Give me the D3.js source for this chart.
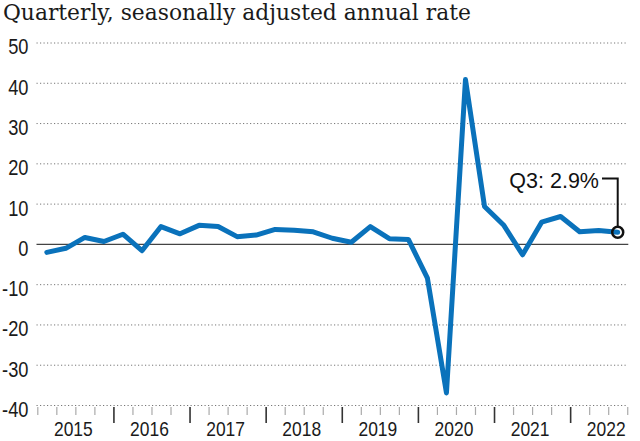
<!DOCTYPE html>
<html>
<head>
<meta charset="utf-8">
<script src="https://cdn.jsdelivr.net/npm/d3@7"></script>
<style>
  html, body { margin: 0; padding: 0; background: #fff; }
  svg { display: block; }
</style>
</head>
<body>
<svg id="chart" width="640" height="441"></svg>
<script>
// ---- Data ----
const title = "Quarterly, seasonally adjusted annual rate";
const quarters = [
  "2015 Q1","2015 Q2","2015 Q3","2015 Q4",
  "2016 Q1","2016 Q2","2016 Q3","2016 Q4",
  "2017 Q1","2017 Q2","2017 Q3","2017 Q4",
  "2018 Q1","2018 Q2","2018 Q3","2018 Q4",
  "2019 Q1","2019 Q2","2019 Q3","2019 Q4",
  "2020 Q1","2020 Q2","2020 Q3","2020 Q4",
  "2021 Q1","2021 Q2","2021 Q3","2021 Q4",
  "2022 Q1","2022 Q2","2022 Q3"
];
const values = [
  -2.1, -1.1, 1.6, 0.6,
  2.4, -1.7, 4.3, 2.5,
  4.6, 4.3, 1.8, 2.2,
  3.6, 3.4, 3.0, 1.4,
  0.4, 4.3, 1.3, 1.1,
  -8.5, -37.0, 40.8, 9.3,
  4.7, -2.7, 5.4, 6.8,
  3.0, 3.3, 2.9
];
const years = ["2015","2016","2017","2018","2019","2020","2021","2022"];
const yTicks = [50, 40, 30, 20, 10, 0, -10, -20, -30, -40];
const annotationText = "Q3: 2.9%";

// ---- Layout ----
const svg = d3.select("#chart");
const sans = "'Liberation Sans', Arial, sans-serif";
const left = 36.5, right = 627.3;
const squeeze = 0.83;

function condense(sel) {
  sel.each(function () {
    const w = this.getComputedTextLength();
    d3.select(this)
      .attr("textLength", w * squeeze)
      .attr("lengthAdjust", "spacingAndGlyphs");
  });
}

const x = d3.scaleLinear().domain([0, 32]).range([37.3, 37.3 + 32 * 19.03]);
const y = d3.scaleLinear().domain([-40, 50]).range([405, 42.5]);

// Title
svg.append("text")
  .attr("x", 3).attr("y", 20)
  .attr("font-family", "'DejaVu Serif', Georgia, serif")
  .attr("font-size", 21.8)
  .attr("fill", "#1a1a1a")
  .text(title);

// Y axis with gridlines
const yAxis = d3.axisLeft(y)
  .tickValues(yTicks)
  .tickSize(-(right - left))
  .tickPadding(8)
  .tickFormat(d => String(d));

const gy = svg.append("g")
  .attr("transform", `translate(${left},0)`)
  .call(yAxis);
gy.select(".domain").remove();
gy.selectAll(".tick line")
  .attr("stroke", d => d === 0 ? "#444" : "#777")
  .attr("stroke-width", d => d === 0 ? 1.4 : 1)
  .attr("stroke-dasharray", d => d === 0 ? null : "1.2,2.3")
  .attr("x2", d => d === 0 ? (right - left + 1) : (right - left - 1));
gy.selectAll(".tick text")
  .attr("font-family", sans)
  .attr("font-size", 22)
  .attr("fill", "#1a1a1a")
  .attr("dy", "0.52em")
  .call(condense);

// X axis (quarter ticks)
const qTicks = d3.range(0, quarters.length + 1);
const xAxis = d3.axisBottom(x)
  .tickValues(qTicks)
  .tickSize(8)
  .tickFormat("");
const gx = svg.append("g")
  .attr("transform", "translate(0,407)")
  .call(xAxis);
gx.select(".domain").remove();
gx.selectAll(".tick line")
  .attr("stroke", (d) => (d > 0 && d % 4 === 0) ? "#333" : "#aaa")
  .attr("stroke-width", (d) => (d > 0 && d % 4 === 0) ? 1.6 : 1.2)
  .attr("y2", (d) => (d > 0 && d % 4 === 0) ? 16 : 8);

// Year labels
svg.append("g").selectAll("text")
  .data(years)
  .join("text")
  .attr("x", (d, i) => x(i * 4 + 2) - 2)
  .attr("y", 435.5)
  .attr("text-anchor", "middle")
  .attr("font-family", sans)
  .attr("font-size", 21)
  .attr("fill", "#1a1a1a")
  .text(d => d)
  .call(condense);

// Line
const line = d3.line()
  .x((d, i) => x(i + 0.5))
  .y(d => y(d))
  .curve(d3.curveLinear);

svg.append("path")
  .datum(values)
  .attr("d", line)
  .attr("fill", "none")
  .attr("stroke", "#0a72bb")
  .attr("stroke-width", 5)
  .attr("stroke-linejoin", "round")
  .attr("stroke-linecap", "round");

// Annotation
const lastI = values.length - 1;
const cx = x(lastI + 0.5), cy = y(values[lastI]);
const r = 5.5;
const labelY = 178.5;
svg.append("path")
  .attr("d", `M${cx},${cy - r} V${labelY} H${602}`)
  .attr("fill", "none")
  .attr("stroke", "#111")
  .attr("stroke-width", 2);
svg.append("circle")
  .attr("cx", cx).attr("cy", cy).attr("r", r)
  .attr("fill", "none")
  .attr("stroke", "#111")
  .attr("stroke-width", 2.5);
svg.append("text")
  .attr("x", 599).attr("y", 187.5)
  .attr("text-anchor", "end")
  .attr("font-family", sans)
  .attr("font-size", 21.5)
  .attr("fill", "#111")
  .text(annotationText);
</script>
</body>
</html>
